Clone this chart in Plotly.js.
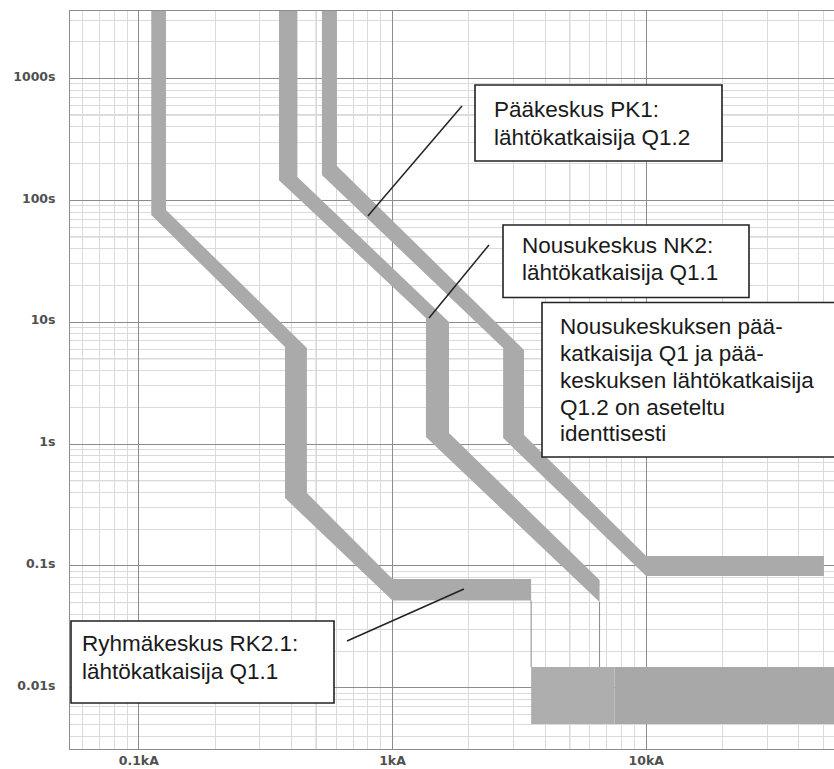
<!DOCTYPE html>
<html>
<head>
<meta charset="utf-8">
<script src="https://cdn.plot.ly/plotly-3.0.1.min.js"></script>
<style>html,body{margin:0;padding:0;background:#fff;}#chart{width:834px;height:769px;}</style>
</head>
<body>
<div id="chart"></div>
<script>
// ---- tick labels ----
const xTickVals = [0.1, 1, 10];
const xTickText = ['0.1kA', '1kA', '10kA'];
const yTickVals = [0.01, 0.1, 1, 10, 100, 1000];
const yTickText = ['0.01s', '0.1s', '1s', '10s', '100s', '1000s'];

// ---- band outlines (current kA, time s) ----
// Ryhmäkeskus RK2.1: lähtökatkaisija Q1.1
const bandA_kA = [0.112, 0.112, 0.377, 0.377, 1.0, 3.52, 3.52, 1.0, 0.46, 0.46, 0.128, 0.128];
const bandA_s  = [5000, 75.6, 6.25, 0.36, 0.052, 0.052, 0.078, 0.078, 0.396, 6.13, 83.1, 5000];
// Nousukeskus NK2: lähtökatkaisija Q1.1
const bandB_kA = [0.357, 0.357, 1.355, 1.355, 6.55, 6.55, 1.67, 1.67, 0.422, 0.422];
const bandB_s  = [5000, 146, 10.8, 1.14, 0.0506, 0.0766, 1.23, 10.0, 155, 5000];
// Pääkeskus PK1: lähtökatkaisija Q1.2
const bandC_kA = [0.527, 0.527, 2.73, 2.73, 10.0, 50.2, 50.2, 10.0, 3.30, 3.30, 0.604, 0.604];
const bandC_s  = [5000, 161, 6.13, 1.12, 0.0826, 0.0826, 0.1205, 0.1205, 1.185, 5.90, 191, 5000];
// instantaneous region
const block1_kA = [3.52, 7.5, 7.5, 3.52];
const block2_kA = [7.5, 100, 100, 7.5];
const block_s   = [0.00505, 0.00505, 0.0148, 0.0148];
// thin drop lines
const dropA_kA = [3.52, 3.52];
const dropA_s  = [0.052, 0.0148];
const dropB_kA = [6.55, 6.55];
const dropB_s  = [0.0506, 0.0148];
// leader lines
const leadPK1_kA = [1.879, 0.80];
const leadPK1_s  = [593, 74.2];
const leadNK2_kA = [2.40, 1.393];
const leadNK2_s  = [42.9, 10.8];
const leadRK2_kA = [0.662, 1.913];
const leadRK2_s  = [0.0242, 0.0646];

// ---- text boxes ----
const boxPK1 = ['Pääkeskus PK1:', 'lähtökatkaisija Q1.2'];
const boxNK2 = ['Nousukeskus NK2:', 'lähtökatkaisija Q1.1'];
const boxNote = ['Nousukeskuksen pää-', 'katkaisija Q1 ja pää-', 'keskuksen lähtökatkaisija', 'Q1.2 on aseteltu', 'identtisesti'];
const boxRK2 = ['Ryhmäkeskus RK2.1:', 'lähtökatkaisija Q1.1'];

// ---- layout geometry (pixels) ----
const PL = 70, PT = 11, PW = 764, PH = 738;
const pxX = x => (x - PL) / PW;
const pxY = y => (PT + PH - y) / PH;
const FS = 22.5;

const bandColor = '#aaaaaa';
function band(xs, ys, color) {
  return {x: xs, y: ys, type: 'scatter', mode: 'lines', fill: 'toself',
          fillcolor: color, line: {width: 0, color: color}, hoverinfo: 'skip', showlegend: false};
}
function line(xs, ys, color, w) {
  return {x: xs, y: ys, type: 'scatter', mode: 'lines',
          line: {width: w, color: color}, hoverinfo: 'skip', showlegend: false};
}

const traces = [
  band(bandA_kA, bandA_s, bandColor),
  band(bandB_kA, bandB_s, bandColor),
  band(bandC_kA, bandC_s, bandColor),
  band(block1_kA, block_s, '#aeaeae'),
  band(block2_kA, block_s, '#a8a8a8'),
  line(dropA_kA, dropA_s, '#8a8a8a', 1),
  line(dropB_kA, dropB_s, '#8a8a8a', 1),
  line(leadPK1_kA, leadPK1_s, '#222222', 1.5),
  line(leadNK2_kA, leadNK2_s, '#222222', 1.5),
  line(leadRK2_kA, leadRK2_s, '#222222', 1.5)
];

// minor grid (2..9 in each decade) and medium grid (5 in each decade)
const minorX = [], minorY = [], midX = [], midY = [];
for (let e = -2; e <= 2; e++) for (let m = 2; m <= 9; m++) minorX.push(m * Math.pow(10, e));
for (let e = -3; e <= 3; e++) for (let m = 2; m <= 9; m++) minorY.push(m * Math.pow(10, e));
for (let e = -2; e <= 1; e++) midX.push(5 * Math.pow(10, e));
for (let e = -3; e <= 3; e++) midY.push(5 * Math.pow(10, e));

const shapes = [];
midX.forEach(v => shapes.push({type: 'line', xref: 'x', yref: 'paper', x0: v, x1: v, y0: 0, y1: 1,
  line: {color: '#bdbdbd', width: 1}, layer: 'between'}));
midY.forEach(v => shapes.push({type: 'line', xref: 'paper', yref: 'y', x0: 0, x1: 1, y0: v, y1: v,
  line: {color: '#bdbdbd', width: 1}, layer: 'between'}));

// boxes: [left, top, right, bottom] in px
const boxes = [[475, 85, 722, 161], [503, 225, 749, 297.5], [542, 302.5, 845, 457], [71, 621, 334, 703]];
boxes.forEach(b => shapes.push({type: 'rect', xref: 'paper', yref: 'paper',
  x0: pxX(b[0]), x1: pxX(b[2]), y0: pxY(b[3]), y1: pxY(b[1]),
  fillcolor: '#ffffff', line: {color: '#222222', width: 1.6}, layer: 'above'}));

const annotations = [];
function addLines(lines, left, baselines) {
  lines.forEach((t, i) => annotations.push({
    xref: 'paper', yref: 'paper', x: pxX(left), y: pxY(baselines[i] - 0.3465 * FS),
    xanchor: 'left', yanchor: 'middle', align: 'left', showarrow: false, text: t,
    font: {family: 'Liberation Sans, Arial, sans-serif', size: FS, color: '#1a1a1a'}
  }));
}
addLines(boxPK1, 492, [117.5, 144.8]);
addLines(boxNK2, 520, [253, 280]);
addLines(boxNote, 558, [334, 361, 388.5, 415, 441.5]);
addLines(boxRK2, 80, [651.7, 679.3]);

const tickFont = {family: 'DejaVu Sans, sans-serif', size: 12.5, color: '#505050', weight: 'bold'};

const layout = {
  width: 834, height: 769,
  margin: {l: PL, r: 0, t: PT, b: 769 - PT - PH, pad: 0},
  paper_bgcolor: '#ffffff', plot_bgcolor: '#ffffff',
  showlegend: false,
  xaxis: {
    type: 'log', range: [-1.2711, 1.7403], autorange: false,
    tickmode: 'array', tickvals: xTickVals, ticktext: xTickText,
    ticks: '', tickfont: tickFont, ticklabelstandoff: 0,
    showgrid: true, gridcolor: '#8c8c8c', gridwidth: 1,
    minor: {tickmode: 'array', tickvals: minorX, showgrid: true, gridcolor: '#dadada', gridwidth: 1, ticks: ''},
    showline: true, linecolor: '#8c8c8c', linewidth: 1, mirror: true,
    zeroline: false, fixedrange: true
  },
  yaxis: {
    type: 'log', range: [-2.502, 3.552], autorange: false,
    tickmode: 'array', tickvals: yTickVals, ticktext: yTickText,
    ticks: '', tickfont: tickFont, ticklabelstandoff: 11, ticklabelshift: -2,
    showgrid: true, gridcolor: '#8c8c8c', gridwidth: 1,
    minor: {tickmode: 'array', tickvals: minorY, showgrid: true, gridcolor: '#dadada', gridwidth: 1, ticks: ''},
    showline: true, linecolor: '#8c8c8c', linewidth: 1, mirror: false,
    zeroline: false, fixedrange: true
  },
  shapes: shapes,
  annotations: annotations
};

Plotly.newPlot('chart', traces, layout, {staticPlot: true, displayModeBar: false});
</script>
</body>
</html>
